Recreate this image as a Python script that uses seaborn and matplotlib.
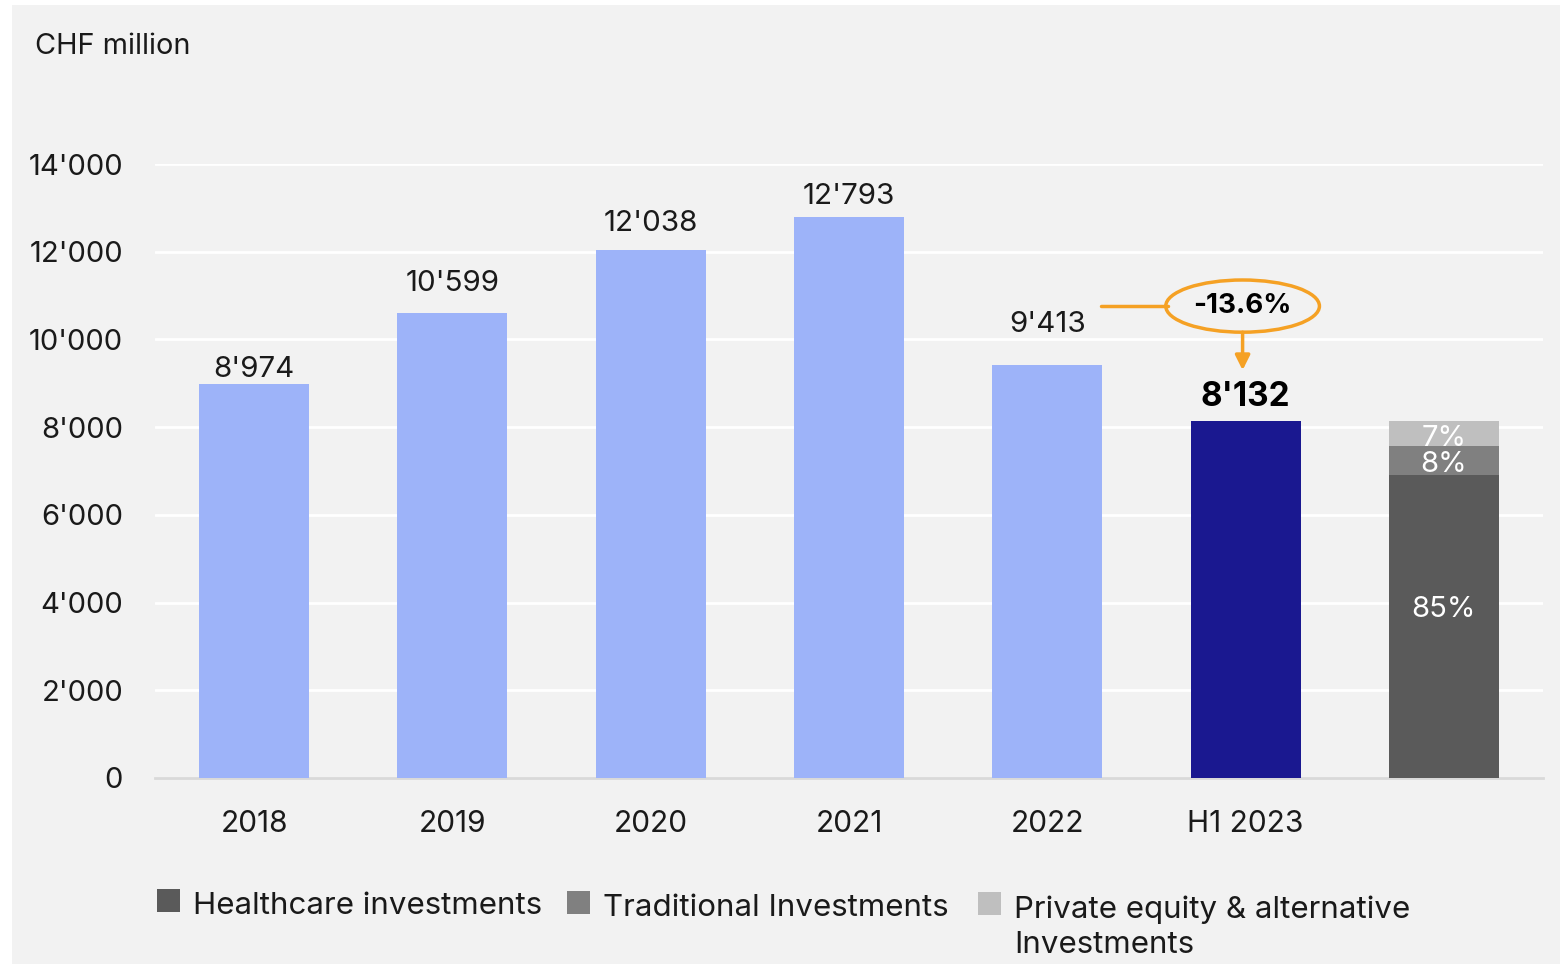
import seaborn as sns
import matplotlib.pyplot as plt
import pandas as pd
from matplotlib.patches import Ellipse, Rectangle
from matplotlib.ticker import FuncFormatter

# data
categories = ["2018", "2019", "2020", "2021", "2022", "H1 2023", ""]
totals = [8974, 10599, 12038, 12793, 9413, 8132]
bar_labels = ["8'974", "10'599", "12'038", "12'793", "9'413", "8'132"]
split_names = ["Healthcare investments", "Traditional Investments",
               "Private equity & alternative\nInvestments"]
split_shares = [85, 8, 7]
change_label = "-13.6%"

# label gaps above each bar (px), as laid out in the original slide
label_gap = [18, 32, 29, 23, 43, 24]

light_blue = "#9db3f9"
navy = "#1a1890"
orange = "#f5a124"
split_colors = ["#5a5a5a", "#808080", "#bfbfbf"]
panel = "#f2f2f2"

sns.set_style("white")
plt.rcParams["font.family"] = ["Inter", "DejaVu Sans"]

fig = plt.figure(figsize=(15.6, 9.64), dpi=100, facecolor="white")
fig.patches.append(Rectangle((12 / 1560, 0), 1 - 12 / 1560, 959 / 964,
                             transform=fig.transFigure, facecolor=panel,
                             edgecolor="none", zorder=-10))
ax = fig.add_axes([155 / 1560, (964 - 778) / 964, (1543 - 155) / 1560, 614 / 964])
ax.set_facecolor(panel)

df = pd.DataFrame({"cat": categories[:6], "value": totals})
bar_colors = [light_blue] * 5 + [navy]
sns.barplot(data=df, x="cat", y="value", hue="cat", palette=bar_colors,
            order=categories, width=0.555, legend=False, ax=ax, zorder=3,
            saturation=1)

# stacked split bar: draw cumulative heights, tallest first
split_total = totals[-1]
split_values = [split_total * s / 100 for s in split_shares]
cum = []
run = 0
for v in split_values:
    run += v
    cum.append(run)
for v, c in reversed(list(zip(cum, split_colors))):
    sns.barplot(x=[categories[-1]], y=[v], order=categories, color=c,
                width=0.555, ax=ax, zorder=3, saturation=1)

for p in ax.patches:
    p.set_edgecolor("none")

ax.set_xlim(-0.5, 6.5)
ax.set_ylim(0, 14000)
ax.set_yticks(range(0, 14001, 2000))
ax.yaxis.set_major_formatter(FuncFormatter(lambda v, _: f"{int(v):,}".replace(",", "'")))
ax.grid(axis="y", color="white", lw=2, zorder=0)
ax.set_axisbelow(True)
for s in ["top", "right", "left"]:
    ax.spines[s].set_visible(False)
ax.spines["bottom"].set_color("#d9d9d9")
ax.spines["bottom"].set_linewidth(2)
ax.tick_params(axis="y", length=0, pad=23, labelsize=21, labelcolor="#1a1a1a")
ax.tick_params(axis="x", length=0, pad=23, labelsize=21.5, labelcolor="#1a1a1a")
ax.set_xlabel("")
ax.set_ylabel("")

# value labels
for i, (v, lab, gap) in enumerate(zip(totals, bar_labels, label_gap)):
    if i == 5:
        ax.annotate(lab, (i, v), xytext=(0, gap * 0.72), textcoords="offset points",
                    ha="center", va="center", fontsize=24, fontweight="bold",
                    color="black")
    else:
        ax.annotate(lab, (i, v), xytext=(0, gap * 0.72 - 2), textcoords="offset points",
                    ha="center", va="center", fontsize=21.3, color="#1a1a1a")

# share labels
bottom = 0
for j, (v, s) in enumerate(zip(split_values, split_shares)):
    y = bottom + v * (0.57 if j == 0 else 0.5)
    ax.annotate(f"{s}%", (6, y), xytext=(0, -3), textcoords="offset points",
                ha="center", va="center", fontsize=21, color="white", zorder=5)
    bottom += v

# change callout
ax.plot([4.27, 4.61], [10760, 10760], color=orange, lw=2.5, clip_on=False)
ax.add_patch(Ellipse((4.985, 10760), 0.775, 1190, facecolor="none",
                     edgecolor=orange, lw=2.5, zorder=5))
ax.text(4.985, 10760, change_label, ha="center", va="center", fontsize=20,
        fontweight="bold", color="black", zorder=6)
ax.annotate("", xy=(4.985, 9300), xytext=(4.985, 10165),
            arrowprops=dict(arrowstyle="-|>", color=orange, lw=2.5,
                            mutation_scale=22, shrinkA=0, shrinkB=0))

fig.text(35 / 1560, 1 - 46 / 964, "CHF million", fontsize=20.8, va="center",
         ha="left", color="#1a1a1a")

# legend
leg_x = [157, 567, 978]
leg_y = [901, 903, 904]
for x, y, name, c in zip(leg_x, leg_y, split_names, split_colors):
    fig.patches.append(Rectangle((x / 1560, 1 - (y + 11) / 964), 23 / 1560, 23 / 964,
                                 transform=fig.transFigure, facecolor=c,
                                 edgecolor="none"))
    fig.text((x + 36) / 1560, 1 - (y - 9) / 964, name, fontsize=22.5, va="top",
             ha="left", color="#1a1a1a", linespacing=1.36)

fig.savefig("out.png", dpi=100, facecolor=fig.get_facecolor())
